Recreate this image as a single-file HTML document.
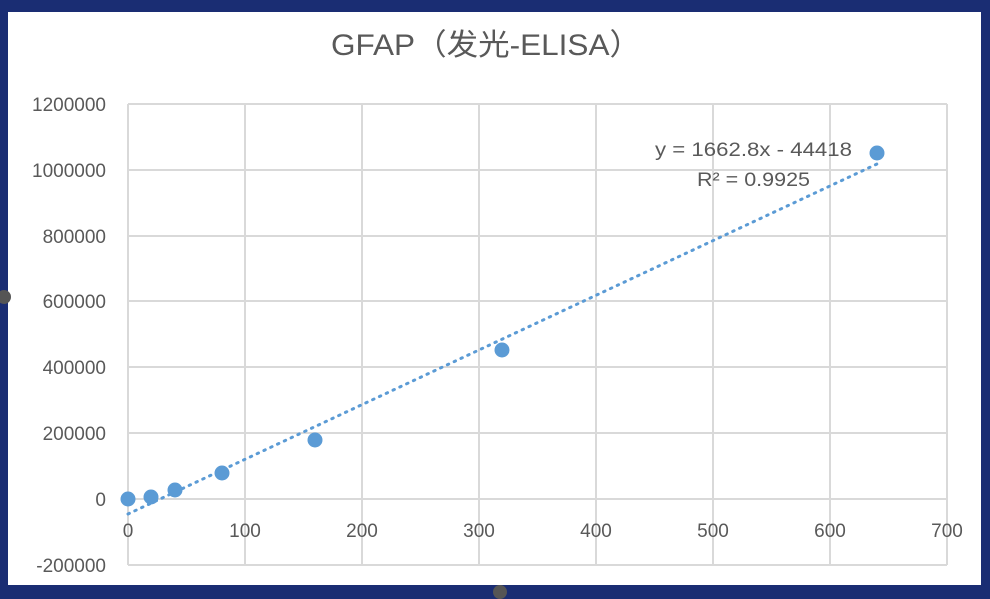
<!DOCTYPE html>
<html><head><meta charset="utf-8"><style>
body{margin:0;background:#1a2d73;width:990px;height:599px;overflow:hidden}
svg{display:block}
text{font-family:"Liberation Sans","Noto Sans CJK SC",sans-serif;fill:#595959}
</style></head><body>
<svg width="990" height="599" viewBox="0 0 990 599">
<rect x="0" y="0" width="990" height="599" fill="#1a2d73"/>
<rect x="8" y="12" width="973" height="573" fill="#fff"/>
<text x="331" y="55" font-size="30" textLength="310" lengthAdjust="spacingAndGlyphs">GFAP（发光-ELISA）</text>
<g stroke="#d9d9d9" stroke-width="2">
<line x1="128" y1="104" x2="947" y2="104"/>
<line x1="128" y1="170" x2="947" y2="170"/>
<line x1="128" y1="236" x2="947" y2="236"/>
<line x1="128" y1="301" x2="947" y2="301"/>
<line x1="128" y1="367" x2="947" y2="367"/>
<line x1="128" y1="433" x2="947" y2="433"/>
<line x1="128" y1="499" x2="947" y2="499"/>
<line x1="128" y1="565" x2="947" y2="565"/>
<line x1="128" y1="104" x2="128" y2="565"/>
<line x1="245" y1="104" x2="245" y2="565"/>
<line x1="362" y1="104" x2="362" y2="565"/>
<line x1="479" y1="104" x2="479" y2="565"/>
<line x1="596" y1="104" x2="596" y2="565"/>
<line x1="713" y1="104" x2="713" y2="565"/>
<line x1="830" y1="104" x2="830" y2="565"/>
<line x1="947" y1="104" x2="947" y2="565"/>
</g>
<g font-size="19" text-anchor="end">
<text x="106" y="111">1200000</text>
<text x="106" y="177">1000000</text>
<text x="106" y="243">800000</text>
<text x="106" y="308">600000</text>
<text x="106" y="374">400000</text>
<text x="106" y="440">200000</text>
<text x="106" y="506">0</text>
<text x="106" y="572">-200000</text>
</g>
<g font-size="19" text-anchor="middle">
<text x="128" y="537">0</text>
<text x="245" y="537">100</text>
<text x="362" y="537">200</text>
<text x="479" y="537">300</text>
<text x="596" y="537">400</text>
<text x="713" y="537">500</text>
<text x="830" y="537">600</text>
<text x="947" y="537">700</text>
</g>
<line x1="128" y1="514" x2="877" y2="164" stroke="#5b9bd5" stroke-width="3" stroke-dasharray="1.5,6" stroke-linecap="round"/>
<g fill="#5b9bd5">
<circle cx="128" cy="499" r="7.5"/>
<circle cx="151" cy="497" r="7.5"/>
<circle cx="175" cy="490" r="7.5"/>
<circle cx="222" cy="473" r="7.5"/>
<circle cx="315" cy="440" r="7.5"/>
<circle cx="502" cy="350" r="7.5"/>
<circle cx="877" cy="153" r="7.5"/>
</g>
<text x="655" y="156" font-size="19" textLength="197" lengthAdjust="spacingAndGlyphs">y = 1662.8x - 44418</text>
<text x="697" y="186" font-size="19" textLength="113" lengthAdjust="spacingAndGlyphs">R² = 0.9925</text>
<circle cx="4" cy="297" r="7" fill="#555"/>
<circle cx="500" cy="592" r="7" fill="#555"/>
</svg>
</body></html>
